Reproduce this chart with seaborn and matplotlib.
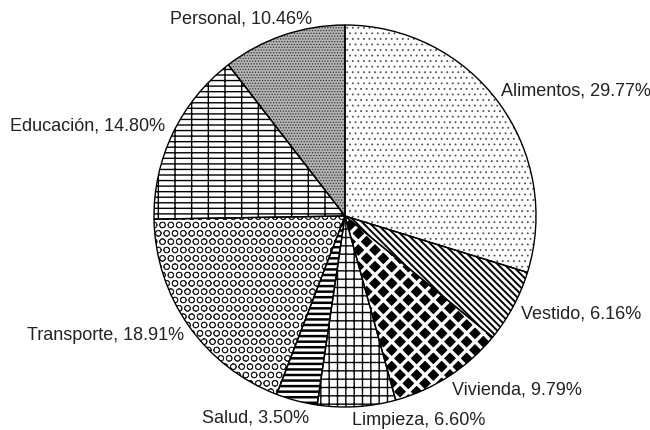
import matplotlib
matplotlib.use("Agg")
import matplotlib.pyplot as plt
import seaborn as sns

# datos del gráfico
categorias = ["Alimentos", "Vestido", "Vivienda", "Limpieza", "Salud",
              "Transporte", "Educación", "Personal"]
porcentajes = [29.77, 6.16, 9.79, 6.60, 3.50, 18.91, 14.80, 10.46]

# estilos de relleno por sector
tramas = ["...", "\\\\\\\\\\", "xx", "++", "---", "OO", "---|", "......"]
fondos = ["white", "white", "black", "white", "white", "white", "white", "#b4b4b4"]
color_trama = ["#555555", "black", "white", "black", "black", "#222222", "black", "#333333"]
grosor_trama = [0.6, 1.4, 2.4, 1.0, 1.8, 0.6, 1.0, 0.6]

# posiciones de las etiquetas (unidades del radio)
pos_etiquetas = [(1.209, 0.662), (1.236, -0.508), (0.901, -0.906), (0.387, -1.068),
                 (-0.466, -1.052), (-1.251, -0.623), (-1.346, 0.476), (-0.545, 1.037)]

sns.set_theme(style="white")
plt.rcParams["font.family"] = ["Liberation Sans", "DejaVu Sans"]
plt.rcParams["hatch.linewidth"] = 1.0

fig = plt.figure(figsize=(6.5, 4.31), dpi=100)
ax = fig.add_axes([0, 0, 1, 1])

# rellenos con trama
wedges, _ = ax.pie(porcentajes, startangle=90, counterclock=False,
                   colors=fondos, radius=1.0,
                   wedgeprops=dict(linewidth=0))
for w, h, c, lw in zip(wedges, tramas, color_trama, grosor_trama):
    w.set_edgecolor(c)
    w.set_linewidth(0)
    w.set_hatch(h)
    try:
        w.set_hatch_linewidth(lw)
    except AttributeError:
        pass

# contornos negros
ax.pie(porcentajes, startangle=90, counterclock=False, radius=1.0,
       wedgeprops=dict(fill=False, edgecolor="black", linewidth=1.0))

for nombre, p, (x, y) in zip(categorias, porcentajes, pos_etiquetas):
    ax.text(x, y, f"{nombre}, {p:.2f}%", ha="center", va="center",
            fontsize=13, color="#222222")

r = 191
ax.set_xlim(-345 / r, (650 - 345) / r)
ax.set_ylim(-(431 - 217) / r, 217 / r)
ax.set_aspect("equal")
ax.axis("off")

fig.savefig("out.png", dpi=100)
